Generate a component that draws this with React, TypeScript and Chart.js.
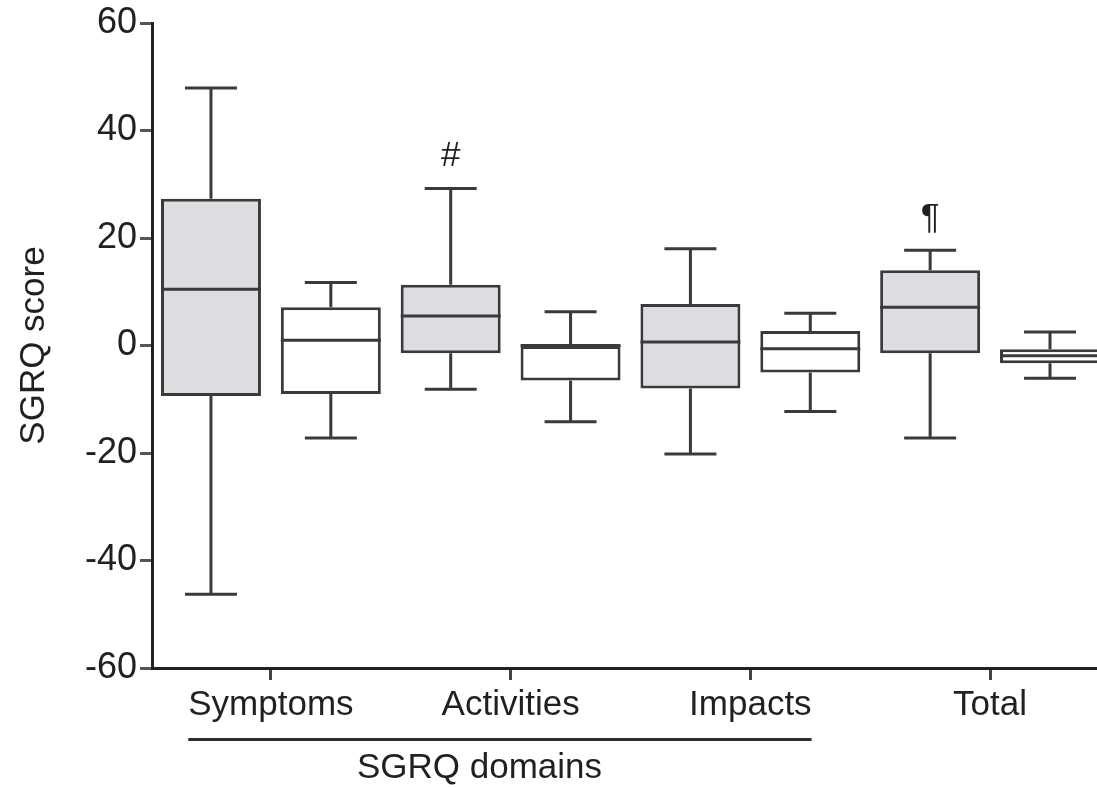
import React, { useEffect, useRef } from 'react';
import { Chart, registerables } from 'chart.js';

Chart.register(...registerables);

// ---- data ----
const domains = ['Symptoms', 'Activities', 'Impacts', 'Total'];
const domainTickValues = [1.5, 3.5, 5.5, 7.5];
const boxPositions = [1, 2, 3, 4, 5, 6, 7, 8];
const whiskerMax = [47.9, 11.7, 29.2, 6.3, 18.0, 6.0, 17.7, 2.5];
const upperQuartile = [27.3, 7.1, 11.3, 0.0, 7.7, 2.7, 14.0, -0.7];
const medianValues = [10.45, 1.0, 5.5, 0.0, 0.65, -0.6, 7.1, -1.9];
const lowerQuartile = [-9.4, -9.0, -1.45, -6.5, -8.0, -5.0, -1.45, -3.3];
const whiskerMin = [-46.3, -17.2, -8.15, -14.2, -20.2, -12.3, -17.2, -6.1];
const boxFills = ['#dcdde0', '#ffffff', '#dcdde0', '#ffffff', '#dcdde0', '#ffffff', '#dcdde0', '#ffffff'];
const yTicks = [-60, -40, -20, 0, 20, 40, 60];
const annotationBoxes = [3, 7];
const annotationTexts = ['#', '¶'];
const groupLabel = 'SGRQ domains';
const groupFirst = 0; // Symptoms
const groupLast = 2; // Impacts
const yTitle = 'SGRQ score';

const FONT = '"Liberation Sans", Arial, Helvetica, sans-serif';
const TEXT = '#231f20';
const LINE = '#3a3a3a';

const boxPlugin = {
  id: 'boxWhiskers',
  afterDatasetsDraw(chart: any) {
    const ctx = chart.ctx;
    const ys = chart.scales.y;
    const meta = chart.getDatasetMeta(0);
    const area = chart.chartArea;
    ctx.save();
    ctx.beginPath();
    ctx.rect(area.left, 0, area.right - area.left, chart.height);
    ctx.clip();
    ctx.strokeStyle = LINE;
    ctx.lineWidth = 3;
    ctx.lineCap = 'butt';
    meta.data.forEach((bar: any, i: number) => {
      const { x, width } = bar.getProps(['x', 'width'], true);
      const half = width / 2;
      const cap = width * 0.26;
      const yMax = ys.getPixelForValue(whiskerMax[i]);
      const yQ3 = ys.getPixelForValue(upperQuartile[i]);
      const yMed = ys.getPixelForValue(medianValues[i]);
      const yQ1 = ys.getPixelForValue(lowerQuartile[i]);
      const yMin = ys.getPixelForValue(whiskerMin[i]);
      ctx.beginPath();
      ctx.moveTo(x, yQ3);
      ctx.lineTo(x, yMax);
      ctx.moveTo(x - cap, yMax);
      ctx.lineTo(x + cap, yMax);
      ctx.moveTo(x, yQ1);
      ctx.lineTo(x, yMin);
      ctx.moveTo(x - cap, yMin);
      ctx.lineTo(x + cap, yMin);
      ctx.moveTo(x - half, yMed);
      ctx.lineTo(x + half, yMed);
      ctx.stroke();
    });
    ctx.restore();

    // annotations
    ctx.save();
    ctx.fillStyle = TEXT;
    ctx.font = `35px ${FONT}`;
    ctx.textAlign = 'center';
    ctx.textBaseline = 'middle';
    annotationBoxes.forEach((b, k) => {
      const i = boxPositions.indexOf(b);
      const bar: any = meta.data[i];
      const x = bar.getProps(['x'], true).x;
      ctx.fillText(annotationTexts[k], x, ys.getPixelForValue(whiskerMax[i]) - 32);
    });
    ctx.restore();
  },
  afterDraw(chart: any) {
    const ctx = chart.ctx;
    const xs = chart.scales.x;
    const area = chart.chartArea;
    ctx.save();
    ctx.font = `35px ${FONT}`;
    const left = xs.getPixelForValue(domainTickValues[groupFirst]) - ctx.measureText(domains[groupFirst]).width / 2;
    const right = xs.getPixelForValue(domainTickValues[groupLast]) + ctx.measureText(domains[groupLast]).width / 2;
    const ly = area.bottom + 71.5;
    ctx.strokeStyle = '#2e2e2e';
    ctx.lineWidth = 3;
    ctx.beginPath();
    ctx.moveTo(left, ly);
    ctx.lineTo(right, ly);
    ctx.stroke();
    ctx.fillStyle = TEXT;
    ctx.textAlign = 'center';
    ctx.textBaseline = 'middle';
    ctx.fillText(groupLabel, xs.getPixelForValue(3.24), area.bottom + 100);
    ctx.restore();
  },
};

export default function App() {
  const canvasRef = useRef<HTMLCanvasElement | null>(null);

  useEffect(() => {
    const canvas = canvasRef.current;
    if (!canvas) return;
    const chart = new Chart(canvas, {
      type: 'bar',
      data: {
        datasets: [
          {
            data: boxPositions.map((p, i) => ({ x: p, y: [lowerQuartile[i], upperQuartile[i]] })) as any,
            backgroundColor: boxFills,
            borderColor: LINE,
            borderWidth: 3,
            borderSkipped: false,
            barPercentage: 0.834,
            categoryPercentage: 1,
          } as any,
        ],
      },
      options: {
        animation: false,
        responsive: false,
        devicePixelRatio: 1,
        layout: { padding: { top: 23, left: 0, right: 0, bottom: 0 } },
        plugins: { legend: { display: false }, tooltip: { enabled: false } },
        scales: {
          x: {
            type: 'linear',
            min: 0.508,
            max: 8.392,
            offset: false,
            afterBuildTicks: (s: any) => {
              s.ticks = domainTickValues.map((v) => ({ value: v }));
            },
            ticks: {
              callback: (_v: any, idx: number) => domains[idx] ?? '',
              font: { family: FONT, size: 35 },
              color: TEXT,
              padding: 4,
              maxRotation: 0,
              autoSkip: false,
            },
            grid: {
              drawOnChartArea: false,
              offset: false,
              drawTicks: true,
              tickLength: 12,
              tickWidth: 3,
              tickColor: '#444',
            },
            border: { display: true, color: TEXT, width: 3 },
            afterFit: (s: any) => {
              s.height = 119;
              s.paddingLeft = 0;
              s.paddingRight = 0;
            },
          } as any,
          y: {
            type: 'linear',
            min: -60,
            max: 60,
            afterBuildTicks: (s: any) => {
              s.ticks = yTicks.map((v) => ({ value: v }));
            },
            ticks: {
              font: { family: FONT, size: 36 },
              color: TEXT,
              padding: 3,
            },
            grid: {
              drawOnChartArea: false,
              drawTicks: true,
              tickLength: 12,
              tickWidth: 3,
              tickColor: '#555',
            },
            border: { display: true, color: TEXT, width: 3 },
            title: {
              display: true,
              text: yTitle,
              font: { family: FONT, size: 35 },
              color: TEXT,
              padding: { top: 13, bottom: 0 },
            },
            afterFit: (s: any) => {
              s.width = 152;
              s.paddingTop = 0;
              s.paddingBottom = 0;
            },
          } as any,
        },
      },
      plugins: [boxPlugin],
    });
    return () => chart.destroy();
  }, []);

  return (
    <div style={{ position: 'absolute', left: 0, top: 0, width: 1097, height: 787, background: '#fff', overflow: 'hidden' }}>
      <canvas ref={canvasRef} width={1097} height={787} style={{ display: 'block' }} />
    </div>
  );
}
